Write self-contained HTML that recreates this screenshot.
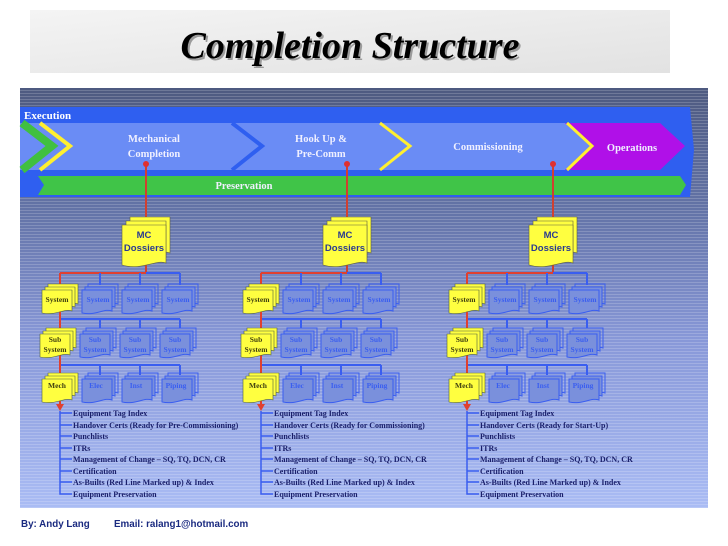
<!DOCTYPE html>
<html><head><meta charset="utf-8"><style>
html,body{margin:0;padding:0;background:#fff;width:728px;height:546px;overflow:hidden}
svg{display:block}
.s{font-family:"Liberation Serif",serif;font-weight:bold}
.a{font-family:"Liberation Sans",sans-serif;font-weight:bold}
</style></head><body>
<svg width="728" height="546" viewBox="0 0 728 546" xmlns="http://www.w3.org/2000/svg">
<defs>
<linearGradient id="bg" x1="0" y1="0" x2="0" y2="1">
<stop offset="0" stop-color="#4e5a80"/><stop offset="0.3" stop-color="#6474a8"/><stop offset="0.6" stop-color="#8898d8"/><stop offset="1" stop-color="#aabcf4"/></linearGradient>
<pattern id="st" width="4" height="3" patternUnits="userSpaceOnUse"><rect width="4" height="1" fill="#ffffff" opacity="0.18"/></pattern>
<linearGradient id="tg" x1="0" y1="0" x2="1" y2="1"><stop offset="0" stop-color="#f4f4f4"/><stop offset="1" stop-color="#e2e2e2"/></linearGradient>
<g id="ydoc"><path d="M8,-8 h40 v36 c-10,-4 -20,6 -40,2 z" fill="#ffff40" stroke="#606040" stroke-width="0.6"/><path d="M4,-4 h40 v36 c-10,-4 -20,6 -40,2 z" fill="#ffff40" stroke="#606040" stroke-width="0.6"/><path d="M0,0 h44 v38 c-10,-4 -24,8 -44,2 z" fill="#ffff40" stroke="#606040" stroke-width="0.6"/></g>
<g id="ys"><path d="M6,-6 h30 v20 c-8,-3 -16,5 -30,2 z" fill="#ffff40" stroke="#506040" stroke-width="0.6"/><path d="M3,-3 h30 v20 c-8,-3 -16,5 -30,2 z" fill="#ffff40" stroke="#506040" stroke-width="0.6"/><path d="M0,0 h30 v21 c-8,-3 -16,5 -30,2 z" fill="#ffff40" stroke="#506040" stroke-width="0.6"/></g>
<g id="bs"><path d="M6,-6 h30 v20 c-8,-3 -16,5 -30,2 z" fill="none" stroke="#3a5ef0" stroke-width="1"/><path d="M3,-3 h30 v20 c-8,-3 -16,5 -30,2 z" fill="#7a90dc" stroke="#3a5ef0" stroke-width="1"/><path d="M0,0 h30 v21 c-8,-3 -16,5 -30,2 z" fill="#7a90dc" stroke="#3a5ef0" stroke-width="1"/></g>
<g id="col">
<line x1="60" y1="273" x2="180" y2="273" stroke="#3a5ef0" stroke-width="2"/>
<line x1="60" y1="273" x2="146" y2="273" stroke="#e04030" stroke-width="2"/>
<line x1="100" y1="273" x2="100" y2="285" stroke="#3a5ef0" stroke-width="2"/>
<line x1="140" y1="273" x2="140" y2="285" stroke="#3a5ef0" stroke-width="2"/>
<line x1="180" y1="273" x2="180" y2="285" stroke="#3a5ef0" stroke-width="2"/>
<line x1="60" y1="319" x2="180" y2="319" stroke="#3a5ef0" stroke-width="2"/>
<line x1="100" y1="319" x2="100" y2="328" stroke="#3a5ef0" stroke-width="2"/>
<line x1="140" y1="319" x2="140" y2="328" stroke="#3a5ef0" stroke-width="2"/>
<line x1="180" y1="319" x2="180" y2="328" stroke="#3a5ef0" stroke-width="2"/>
<line x1="60" y1="365" x2="180" y2="365" stroke="#3a5ef0" stroke-width="2"/>
<line x1="100" y1="365" x2="100" y2="375" stroke="#3a5ef0" stroke-width="2"/>
<line x1="140" y1="365" x2="140" y2="375" stroke="#3a5ef0" stroke-width="2"/>
<line x1="180" y1="365" x2="180" y2="375" stroke="#3a5ef0" stroke-width="2"/>
<line x1="60" y1="273" x2="60" y2="405" stroke="#e04030" stroke-width="2"/>
<path d="M56,404 L64,404 L60,411 Z" fill="#e04030"/>
<path d="M60,411 V494 H72 M60,413 H72 M60,425 H72 M60,436 H72 M60,448 H72 M60,459 H72 M60,471 H72 M60,482 H72" fill="none" stroke="#3a5ef0" stroke-width="1.5"/>
<use href="#ys" x="42" y="290"/><use href="#bs" x="82" y="290"/><use href="#bs" x="122" y="290"/><use href="#bs" x="162" y="290"/>
<use href="#ys" x="40" y="334"/><use href="#bs" x="80" y="334"/><use href="#bs" x="120" y="334"/><use href="#bs" x="160" y="334"/>
<use href="#ys" x="42" y="379"/><use href="#bs" x="82" y="379"/><use href="#bs" x="122" y="379"/><use href="#bs" x="162" y="379"/>
<use href="#ydoc" x="122" y="225"/>
</g>
</defs>
<rect x="30" y="10" width="640" height="63" fill="url(#tg)"/>
<text x="352" y="60" text-anchor="middle" font-family="Liberation Serif,serif" font-weight="bold" font-style="italic" font-size="38" fill="#888" opacity="0.8">Completion Structure</text>
<text x="350" y="58" text-anchor="middle" font-family="Liberation Serif,serif" font-weight="bold" font-style="italic" font-size="38" fill="#000">Completion Structure</text>
<rect x="20" y="88" width="688" height="420" fill="url(#bg)"/>
<rect x="20" y="88" width="688" height="420" fill="url(#st)"/>
<path d="M20,107 H690 L694,150 L690,197 H20 Z" fill="#2f5ff0"/>
<path d="M20,123 H250 L280,146 L250,170 H20 Z" fill="#6a8cf5"/>
<path d="M245,123 H390 L410,146 L390,170 H245 Z" fill="#6a8cf5"/>
<path d="M380,123 H565 L590,146 L565,170 H380 Z" fill="#6a8cf5"/>
<path d="M232,123 L262,146 L232,170" fill="none" stroke="#2f5ff0" stroke-width="4"/>
<path d="M380,123 L410,146 L380,170" fill="none" stroke="#ffef30" stroke-width="3"/>
<path d="M565,123 H660 L685,146 L660,170 H565 L590,146 Z" fill="#b010e8"/>
<path d="M567,123 L592,146 L567,170" fill="none" stroke="#ffef30" stroke-width="3"/>
<path d="M22,123 L52,146 L22,170" fill="none" stroke="#40c040" stroke-width="8"/>
<path d="M40,123 L70,146 L40,170" fill="none" stroke="#ffef30" stroke-width="4"/>
<path d="M38,176 H680 L686,185 L680,195 H38 L44,185 Z" fill="#40c448"/>
<text x="24" y="119" class="s" font-size="11" fill="#fff">Execution</text>
<text x="154" y="142" class="s" font-size="10.5" fill="#f0f0ff" text-anchor="middle">Mechanical</text>
<text x="154" y="157" class="s" font-size="10.5" fill="#f0f0ff" text-anchor="middle">Completion</text>
<text x="321" y="142" class="s" font-size="10.5" fill="#f0f0ff" text-anchor="middle">Hook Up &amp;</text>
<text x="321" y="157" class="s" font-size="10.5" fill="#f0f0ff" text-anchor="middle">Pre-Comm</text>
<text x="488" y="150" class="s" font-size="10.5" fill="#f0f0ff" text-anchor="middle">Commissioning</text>
<text x="632" y="151" class="s" font-size="10.5" fill="#f0f0ff" text-anchor="middle">Operations</text>
<text x="244" y="189" class="s" font-size="10.5" fill="#f0f0ff" text-anchor="middle">Preservation</text>
<g stroke="#d04030" stroke-width="2"><line x1="146" y1="164" x2="146" y2="273"/><line x1="347" y1="164" x2="347" y2="273"/><line x1="553" y1="164" x2="553" y2="273"/></g>
<g fill="#e03030"><circle cx="146" cy="164" r="3"/><circle cx="347" cy="164" r="3"/><circle cx="553" cy="164" r="3"/></g>
<use href="#col"/><use href="#col" x="201"/><use href="#col" x="407"/>
<g class="a" font-size="9.5" fill="#2a3a90" text-anchor="middle">
<text x="144" y="238">MC</text><text x="144" y="251">Dossiers</text>
<text x="345" y="238">MC</text><text x="345" y="251">Dossiers</text>
<text x="551" y="238">MC</text><text x="551" y="251">Dossiers</text>
</g>
<g class="s" font-size="7.5" text-anchor="middle">
<g fill="#404010"><text x="57" y="302">System</text><text x="55" y="342">Sub</text><text x="55" y="352">System</text><text x="57" y="388">Mech</text></g>
<g fill="#3a5ef0"><text x="98" y="302">System</text><text x="138" y="302">System</text><text x="178" y="302">System</text>
<text x="95" y="342">Sub</text><text x="95" y="352">System</text><text x="135" y="342">Sub</text><text x="135" y="352">System</text><text x="175" y="342">Sub</text><text x="175" y="352">System</text>
<text x="96" y="388">Elec</text><text x="136" y="388">Inst</text><text x="176" y="388">Piping</text></g>
</g>
<g class="s" font-size="7.5" text-anchor="middle">
<g fill="#404010"><text x="258" y="302">System</text><text x="256" y="342">Sub</text><text x="256" y="352">System</text><text x="258" y="388">Mech</text></g>
<g fill="#3a5ef0"><text x="299" y="302">System</text><text x="339" y="302">System</text><text x="379" y="302">System</text>
<text x="296" y="342">Sub</text><text x="296" y="352">System</text><text x="336" y="342">Sub</text><text x="336" y="352">System</text><text x="376" y="342">Sub</text><text x="376" y="352">System</text>
<text x="297" y="388">Elec</text><text x="337" y="388">Inst</text><text x="377" y="388">Piping</text></g>
</g>
<g class="s" font-size="7.5" text-anchor="middle">
<g fill="#404010"><text x="464" y="302">System</text><text x="462" y="342">Sub</text><text x="462" y="352">System</text><text x="464" y="388">Mech</text></g>
<g fill="#3a5ef0"><text x="505" y="302">System</text><text x="545" y="302">System</text><text x="585" y="302">System</text>
<text x="502" y="342">Sub</text><text x="502" y="352">System</text><text x="542" y="342">Sub</text><text x="542" y="352">System</text><text x="582" y="342">Sub</text><text x="582" y="352">System</text>
<text x="503" y="388">Elec</text><text x="543" y="388">Inst</text><text x="583" y="388">Piping</text></g>
</g>
<g class="s" font-size="8" fill="#1a1f6a">
<text x="73" y="416">Equipment Tag Index</text><text x="73" y="428">Handover Certs (Ready for Pre-Commissioning)</text><text x="73" y="439">Punchlists</text><text x="73" y="451">ITRs</text><text x="73" y="462">Management of Change – SQ, TQ, DCN, CR</text><text x="73" y="474">Certification</text><text x="73" y="485">As-Builts (Red Line Marked up) &amp; Index</text><text x="73" y="497">Equipment Preservation</text>
<text x="274" y="416">Equipment Tag Index</text><text x="274" y="428">Handover Certs (Ready for Commissioning)</text><text x="274" y="439">Punchlists</text><text x="274" y="451">ITRs</text><text x="274" y="462">Management of Change – SQ, TQ, DCN, CR</text><text x="274" y="474">Certification</text><text x="274" y="485">As-Builts (Red Line Marked up) &amp; Index</text><text x="274" y="497">Equipment Preservation</text>
<text x="480" y="416">Equipment Tag Index</text><text x="480" y="428">Handover Certs (Ready for Start-Up)</text><text x="480" y="439">Punchlists</text><text x="480" y="451">ITRs</text><text x="480" y="462">Management of Change – SQ, TQ, DCN, CR</text><text x="480" y="474">Certification</text><text x="480" y="485">As-Builts (Red Line Marked up) &amp; Index</text><text x="480" y="497">Equipment Preservation</text>
</g>
<text x="21" y="527" class="a" font-size="9.8" fill="#1a2a80">By: Andy Lang</text>
<text x="114" y="527" class="a" font-size="9.8" fill="#1a2a80">Email: ralang1@hotmail.com</text>
</svg>
</body></html>
